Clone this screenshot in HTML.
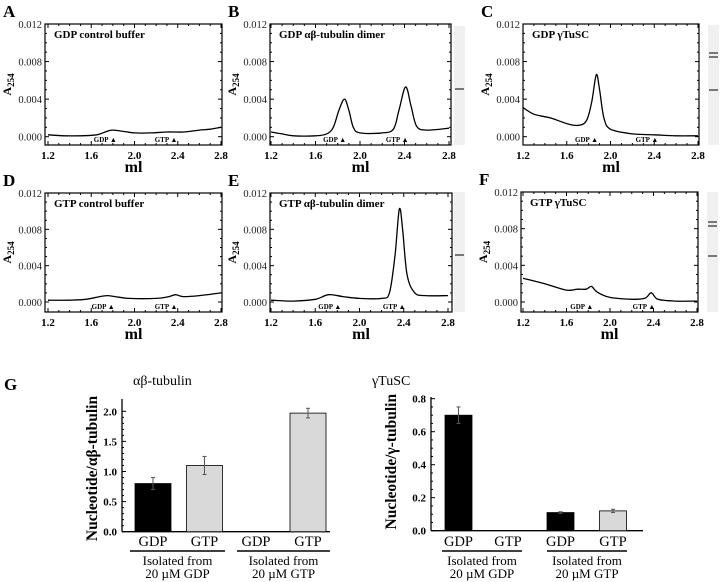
<!DOCTYPE html>
<html><head><meta charset="utf-8"><style>
html,body{margin:0;padding:0;background:#fff;}
svg{display:block;font-family:"Liberation Serif",serif;}
</style></head><body>
<svg id="fig" width="720" height="582" viewBox="0 0 720 582" xmlns="http://www.w3.org/2000/svg"></svg>
<script>
// ---- chromatogram data (ml, A254) ----
const mlA = [1.2,1.35,1.5,1.65,1.75,1.8,1.88,2.0,2.15,2.3,2.45,2.6,2.7,2.8];
const absA = [0.0002,0.0001,0.0001,0.0002,0.0006,0.0007,0.0006,0.0004,0.0004,0.0005,0.0005,0.0007,0.0008,0.001];
const mlB = [1.2,1.3,1.4,1.6,1.7,1.76,1.81,1.86,1.9,1.94,2.0,2.2,2.3,2.35,2.41,2.46,2.51,2.6,2.8];
const absB = [0.0005,0.0003,0.0001,0.0001,0.0003,0.001,0.0028,0.004,0.0028,0.001,0.0004,0.0004,0.0008,0.0028,0.0053,0.0032,0.0011,0.0007,0.0009];
const mlC = [1.2,1.3,1.45,1.6,1.7,1.78,1.83,1.87,1.9,1.94,2.0,2.2,2.4,2.6,2.8];
const absC = [0.0031,0.0024,0.002,0.0014,0.0012,0.0017,0.0038,0.0066,0.005,0.002,0.0008,0.0003,0.0002,0.0001,0.0001];
const mlD = [1.2,1.4,1.55,1.68,1.75,1.82,1.95,2.2,2.32,2.38,2.45,2.6,2.8];
const absD = [0.0002,0.0002,0.0003,0.0006,0.0007,0.0006,0.0004,0.0004,0.0006,0.0008,0.0006,0.0007,0.001];
const mlE = [1.2,1.4,1.6,1.72,1.85,2.0,2.2,2.27,2.32,2.36,2.39,2.43,2.5,2.6,2.8];
const absE = [0.0002,0.0001,0.0003,0.0008,0.0006,0.0004,0.0004,0.001,0.005,0.0102,0.008,0.003,0.001,0.0007,0.0007];
const mlF = [1.2,1.4,1.6,1.7,1.78,1.83,1.88,2.0,2.2,2.32,2.38,2.44,2.6,2.8];
const absF = [0.0026,0.002,0.0013,0.0014,0.0014,0.0017,0.0011,0.0005,0.0003,0.0004,0.001,0.0003,0.0001,0.0001];
const xTicks = ["1.2","1.6","2.0","2.4","2.8"];
const yTicks = ["0.000","0.004","0.008","0.012"];
// ---- bar data ----
const barCats = ["GDP","GTP","GDP","GTP"];
const tubVals = [0.8,1.1,0,1.97];
const tubErr = [0.1,0.15,0,0.08];
const tubTicks = ["0.0","0.5","1.0","1.5","2.0"];
const tuscVals = [0.7,0,0.11,0.12];
const tuscErr = [0.05,0,0.005,0.01];
const tuscTicks = ["0.0","0.2","0.4","0.6","0.8"];
const groupLabels = [["Isolated from","20 µM GDP"],["Isolated from","20 µM GTP"]];

const NS="http://www.w3.org/2000/svg";
const svg=document.getElementById('fig');
function mk(tag,attrs,parent,txt){const e=document.createElementNS(NS,tag);for(const k in attrs)e.setAttribute(k,attrs[k]);if(txt!==undefined)e.textContent=txt;(parent||svg).appendChild(e);return e;}

const panels=[
 {id:'a',L:'A',title:'GDP control buffer',ml:mlA,ab:absA,bx0:45,bx1:222,px0:48,px1:221,top:24,bot:145,z:136.7,gdp:1.8,gtp:2.36,gel:null},
 {id:'b',L:'B',title:'GDP αβ-tubulin dimer',ml:mlB,ab:absB,bx0:270,bx1:451,px0:271,px1:449,top:24,bot:145,z:136.7,gdp:1.84,gtp:2.4,gel:{x:454,w:11,y0:26,y1:145,bands:[89]}},
 {id:'c',L:'C',title:'GDP γTuSC',ml:mlC,ab:absC,bx0:523,bx1:699,px0:523,px1:698,top:24,bot:145,z:136.7,gdp:1.85,gtp:2.4,gel:{x:708,w:11,y0:25,y1:145,bands:[53,57,90]}},
 {id:'d',L:'D',title:'GTP control buffer',ml:mlD,ab:absD,bx0:45,bx1:222,px0:48,px1:221,top:193,bot:312,z:302,gdp:1.78,gtp:2.36,gel:null},
 {id:'e',L:'E',title:'GTP αβ-tubulin dimer',ml:mlE,ab:absE,bx0:270,bx1:452,px0:271,px1:448,top:193,bot:312,z:302,gdp:1.8,gtp:2.38,gel:{x:454,w:11,y0:192,y1:312,bands:[255]}},
 {id:'f',L:'F',title:'GTP γTuSC',ml:mlF,ab:absF,bx0:521,bx1:698,px0:523,px1:697,top:192,bot:312,z:302,gdp:1.81,gtp:2.38,gel:{x:707,w:11,y0:192,y1:312,bands:[222,226,256]}}
];

function smooth(pts){let d='M'+pts[0][0].toFixed(1)+','+pts[0][1].toFixed(1);
 for(let i=0;i<pts.length-1;i++){const p0=pts[Math.max(0,i-1)],p1=pts[i],p2=pts[i+1],p3=pts[Math.min(pts.length-1,i+2)];
  const c1x=p1[0]+(p2[0]-p0[0])/6,c1y=p1[1]+(p2[1]-p0[1])/6,c2x=p2[0]-(p3[0]-p1[0])/6,c2y=p2[1]-(p3[1]-p1[1])/6;
  d+=' C'+c1x.toFixed(1)+','+c1y.toFixed(1)+' '+c2x.toFixed(1)+','+c2y.toFixed(1)+' '+p2[0].toFixed(1)+','+p2[1].toFixed(1);}
 return d;}

panels.forEach(p=>{
 const g=mk('g',{});
 
 
 const X=v=>p.px0+(v-1.2)/1.6*(p.px1-p.px0);
 const Y=v=>p.z-(v/0.012)*(p.z-p.top);
 const lt=mk('text',{x:p.bx0-42,y:p.top-7,'font-size':17,'font-weight':'bold'},g,p.L);
 
 
 const box=mk('rect',{x:p.bx0,y:p.top,width:p.bx1-p.bx0,height:p.bot-p.top,fill:'none',stroke:'#000','stroke-width':1.2},g);
 
 
 for(let i=0;i<=16;i++){const v=1.2+i*0.1,x=X(v),len=(i%4==0)?4:2;
  mk('line',{x1:x,x2:x,y1:p.bot,y2:p.bot-len,stroke:'#000','stroke-width':1},g);
  mk('line',{x1:x,x2:x,y1:p.top,y2:p.top+len,stroke:'#000','stroke-width':1},g);}
 xTicks.forEach(t=>{const tx=mk('text',{x:X(parseFloat(t)),y:p.bot+14,'font-size':11,'font-weight':'bold','text-anchor':'middle'},g,t);
  
  });
 for(let i=0;i<=12;i++){const v=i*0.001,y=Y(v),len=(i%4==0)?4:2;
  mk('line',{x1:p.bx0,x2:p.bx0+len,y1:y,y2:y,stroke:'#000','stroke-width':1},g);
  mk('line',{x1:p.bx1,x2:p.bx1-len,y1:y,y2:y,stroke:'#000','stroke-width':1},g);}
 yTicks.forEach(t=>{const ty=mk('text',{x:p.bx0-3,y:Y(parseFloat(t))+4,'font-size':10.5,'text-anchor':'end',fill:'#222'},g,t);
  
  });
 const xt=mk('text',{x:(p.bx0+p.bx1)/2,y:p.bot+27,'font-size':16,'font-weight':'bold','text-anchor':'middle'},g,'ml');
 
 
 const cy=(p.top+p.bot)/2, ax=p.bx0-34;
 const yt=mk('text',{x:ax,y:cy,'font-size':12,'font-weight':'bold','text-anchor':'middle',transform:'rotate(-90 '+ax+' '+cy+')'},g);
 
 
 yt.appendChild(document.createTextNode('A'));
 mk('tspan',{'font-size':9,dy:3},yt,'254');
 const tt=mk('text',{x:p.bx0+9,y:p.top+14,'font-size':11,'font-weight':'bold'},g,p.title);
 
 
 const pts=p.ml.map((m,i)=>[X(m),Y(p.ab[i])]);
 const cv=mk('path',{d:smooth(pts),fill:'none',stroke:'#000','stroke-width':1.3},g);
 
 
 [['GDP',p.gdp],['GTP',p.gtp]].forEach(([n,v])=>{const mt=mk('text',{x:X(v)+4,y:p.bot-3,'font-size':7,'text-anchor':'end','font-weight':'bold'},g,n+' ▲');
  
  });
 if(p.gel){const gg=mk('g',{},g);
  
  
  mk('rect',{x:p.gel.x,y:p.gel.y0,width:p.gel.w,height:p.gel.y1-p.gel.y0,fill:'#f0f0f0'},gg);
  p.gel.bands.forEach(b=>mk('rect',{x:p.gel.x+1,y:b-1,width:p.gel.w-2,height:2,fill:'#777'},gg));}
});

const gl=mk('text',{x:4,y:390,'font-size':17,'font-weight':'bold'},svg,'G');



function barChart(cfg){
 const g=mk('g',{});
 
 
 const Y=v=>cfg.z-(v/cfg.max)*(cfg.z-cfg.yTop);
 const t=mk('text',{x:cfg.titleX,y:385,'font-size':14},g,cfg.title);
 
 
 mk('line',{x1:cfg.ax,x2:cfg.ax,y1:cfg.axTop,y2:cfg.z,stroke:'#000','stroke-width':1.3},g);
 mk('line',{x1:cfg.ax,x2:cfg.axRight,y1:cfg.z,y2:cfg.z,stroke:'#000','stroke-width':1.3},g);
 for(let i=0;i<=cfg.minorN;i++){const v=i*cfg.max/cfg.minorN,y=Y(v),len=(i%cfg.majEvery==0)?4:2;
  mk('line',{x1:cfg.ax,x2:cfg.ax+len,y1:y,y2:y,stroke:'#000','stroke-width':1},g);}
 cfg.ticks.forEach(tk=>{const e=mk('text',{x:cfg.ax-5,y:Y(parseFloat(tk))+4,'font-size':11,'font-weight':'bold','text-anchor':'end'},g,tk);
  
  });
 const cy=(cfg.yTop+cfg.z)/2-3;
 const yt=mk('text',{x:cfg.ytX,y:cy,'font-size':15.5,'font-weight':'bold','text-anchor':'middle',transform:'rotate(-90 '+cfg.ytX+' '+cy+')'},g,cfg.ytitle);
 
 
 cfg.vals.forEach((v,i)=>{const cx=cfg.cx[i],w=cfg.bw;
  if(v>0){const r=mk('rect',{x:cx-w/2,y:Y(v),width:w,height:cfg.z-Y(v),fill:cfg.fills[i],stroke:'#000','stroke-width':0.8},g);
   
   
   const e=cfg.err[i];
   if(e>0){const eb=mk('g',{stroke:'#555','stroke-width':1},g);
    
    
    mk('line',{x1:cx,x2:cx,y1:Y(v+e),y2:Y(v-e)},eb);
    mk('line',{x1:cx-2,x2:cx+2,y1:Y(v+e),y2:Y(v+e)},eb);
    mk('line',{x1:cx-2,x2:cx+2,y1:Y(v-e),y2:Y(v-e)},eb);}}
  const c=mk('text',{x:cx,y:546,'font-size':14.5,'text-anchor':'middle'},g,barCats[i]);
  
  });
 cfg.groups.forEach((gr,j)=>{
  const u=mk('line',{x1:gr[0],x2:gr[1],y1:551,y2:551,stroke:'#000','stroke-width':1.6},g);
  
  
  const mx=(gr[0]+gr[1])/2;
  groupLabels[j].forEach((ln,k)=>{const e=mk('text',{x:mx,y:565+k*13,'font-size':13,'text-anchor':'middle'},g,ln);
   
   });
 });
}
barChart({name:'tubulin-bar-chart',title:'αβ-tubulin',titleX:133,ax:122,axTop:399,axRight:330,z:531.7,yTop:411.3,max:2.0,minorN:20,majEvery:5,ticks:tubTicks,
 ytX:97,ytitle:'Nucleotide/αβ-tubulin',vals:tubVals,err:tubErr,cx:[153,204.5,256,308],bw:36,fills:['#000','#d9d9d9','#d9d9d9','#d9d9d9'],groups:[[130,225],[237,330]]});
barChart({name:'tusc-bar-chart',title:'γTuSC',titleX:372,ax:431,axTop:397,axRight:643,z:530.7,yTop:398.7,max:0.8,minorN:16,majEvery:4,ticks:tuscTicks,
 ytX:396,ytitle:'Nucleotide/γ-tubulin',vals:tuscVals,err:tuscErr,cx:[458.5,508,560.5,613],bw:27,fills:['#000','#d9d9d9','#000','#d9d9d9'],groups:[[442,522],[547,627]]});
</script>
</body></html>
